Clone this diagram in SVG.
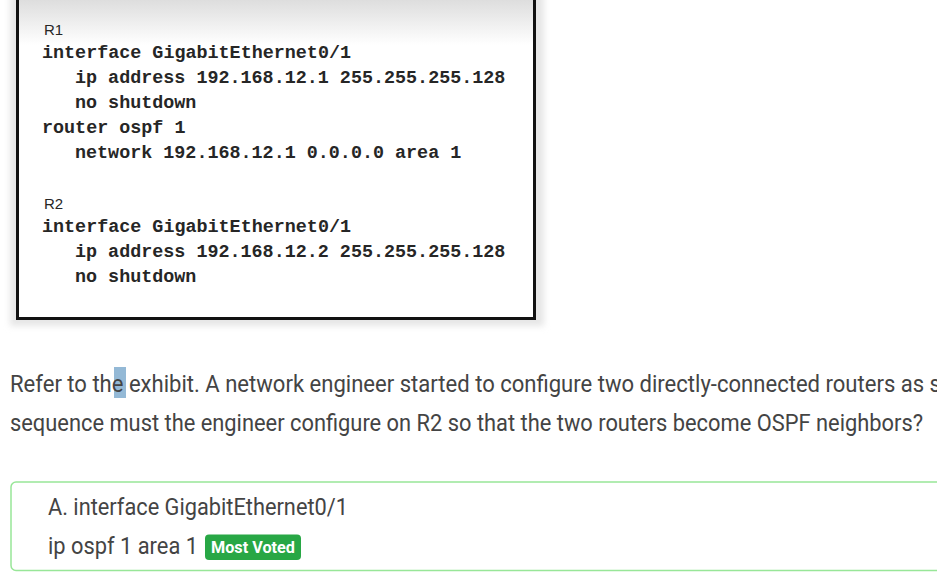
<svg xmlns="http://www.w3.org/2000/svg" width="937" height="572" viewBox="0 0 937 572">
<defs>
<linearGradient id="topfade" x1="0" y1="0" x2="0" y2="1">
<stop offset="0" stop-color="#d6d6d6"/>
<stop offset="1" stop-color="#ffffff"/>
</linearGradient>
<filter id="soft" x="-5%" y="-5%" width="110%" height="110%"><feGaussianBlur stdDeviation="3"/></filter>
<style>
.code{font-family:"Liberation Mono","Courier New",monospace;font-weight:bold;font-size:18.4px;fill:#262626}
.lbl{font-family:"Liberation Sans",Arial,sans-serif;font-size:15px;fill:#262626}
.body{font-family:Roboto,"Liberation Sans",sans-serif;font-size:23px;fill:#444444}
.badge{font-family:Roboto,"Liberation Sans",sans-serif;font-size:16.5px;font-weight:bold;fill:#ffffff}
</style>
</defs>
<rect width="937" height="572" fill="#ffffff"/>
<g id="exhibit">
<rect x="10" y="-10" width="534" height="336" fill="#e6e6e6" filter="url(#soft)"/>
<rect x="17.5" y="-10" width="517" height="328.5" fill="#ffffff"/>
<rect x="19" y="-10" width="514" height="55" fill="url(#topfade)"/>
<rect x="17.5" y="-10" width="517" height="328.5" fill="none" stroke="#111111" stroke-width="3"/>
<text class="lbl" x="44" y="35">R1</text>
<text class="code" x="42" y="58">interface GigabitEthernet0/1</text>
<text class="code" x="75" y="83">ip address 192.168.12.1 255.255.255.128</text>
<text class="code" x="75" y="108">no shutdown</text>
<text class="code" x="42" y="133">router ospf 1</text>
<text class="code" x="75" y="158">network 192.168.12.1 0.0.0.0 area 1</text>
<text class="lbl" x="44" y="209">R2</text>
<text class="code" x="42" y="232">interface GigabitEthernet0/1</text>
<text class="code" x="75" y="257">ip address 192.168.12.2 255.255.255.128</text>
<text class="code" x="75" y="282">no shutdown</text>
</g>
<g id="question">
<rect x="114" y="367" width="12" height="31" fill="#94b9d6"/>
<text class="body" x="10" y="392" textLength="931" lengthAdjust="spacingAndGlyphs">Refer to the exhibit. A network engineer started to configure two directly-connected routers as s</text>
<text class="body" x="10" y="431" textLength="913" lengthAdjust="spacingAndGlyphs">sequence must the engineer configure on R2 so that the two routers become OSPF neighbors?</text>
</g>
<g id="answer">
<rect x="11" y="482" width="940" height="88.5" rx="5" fill="#ffffff" stroke="#98e698" stroke-width="1.5"/>
<text class="body" x="48" y="515" textLength="300" lengthAdjust="spacingAndGlyphs">A. interface GigabitEthernet0/1</text>
<text class="body" x="48" y="554" textLength="150" lengthAdjust="spacingAndGlyphs">ip ospf 1 area 1</text>
<g id="badge">
<rect x="205" y="534.5" width="96" height="25.5" rx="4" fill="#28a745"/>
<text class="badge" x="211" y="553" textLength="84" lengthAdjust="spacingAndGlyphs">Most Voted</text>
</g>
</g>
</svg>
